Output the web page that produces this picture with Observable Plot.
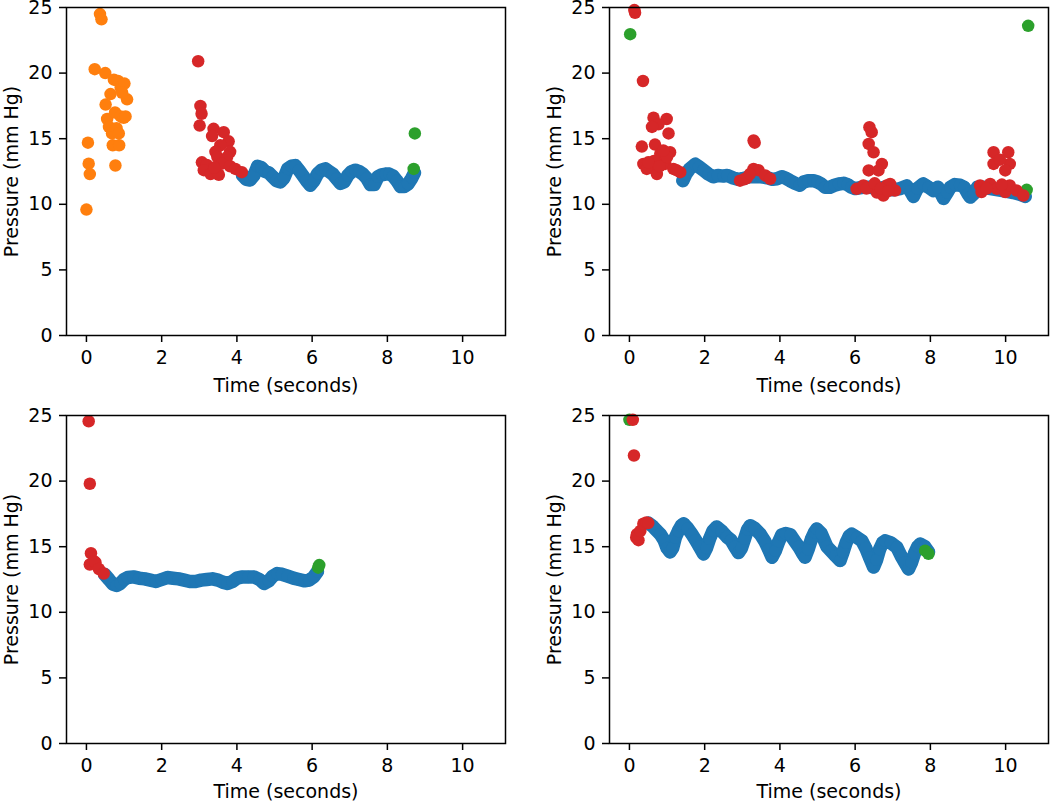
<!DOCTYPE html>
<html>
<head>
<meta charset="utf-8">
<script src="https://cdn.jsdelivr.net/npm/d3@7"></script>
<script src="https://cdn.jsdelivr.net/npm/@observablehq/plot@0.6"></script>
<style>
  body { margin: 0; background: white; font-family: "DejaVu Sans", sans-serif; }
  #wrap { position: relative; width: 1050px; height: 802px; overflow: hidden; }
  .cell { position: absolute; }
  .cell svg { overflow: visible; }
</style>
</head>
<body>
<div id="wrap"></div>
<script>
// ---- tick labels / axis text ----
const xTicks = [0, 2, 4, 6, 8, 10];
const yTicks = [0, 5, 10, 15, 20, 25];
const xLabel = "Time (seconds)";
const yLabel = "Pressure (mm Hg)";

// ---- series colours (categories) ----
const categories = ["baseline", "pre", "end", "artifact"];
const colors = {baseline: "#1f77b4", pre: "#ff7f0e", end: "#2ca02c", artifact: "#d62728"};

// ---- panel 1 (top left) ----
const p1Blue = [[4.15,12.2],[4.25,11.9],[4.35,11.85],[4.45,12.2],[4.55,12.9],[4.65,12.8],[4.75,12.5],[4.85,12.4],[4.95,12.1],[5.05,11.8],[5.15,11.7],[5.25,12.0],[5.35,12.7],[5.45,12.9],[5.55,12.95],[5.65,12.6],[5.75,12.2],[5.85,11.8],[5.95,11.45],[6.05,11.8],[6.15,12.35],[6.25,12.6],[6.35,12.7],[6.45,12.5],[6.55,12.3],[6.65,11.95],[6.75,11.6],[6.85,11.7],[6.95,12.2],[7.05,12.5],[7.15,12.6],[7.25,12.5],[7.35,12.3],[7.45,12.0],[7.55,11.5],[7.65,11.5],[7.75,12.1],[7.85,12.25],[7.95,12.3],[8.05,12.3],[8.15,12.15],[8.25,11.8],[8.35,11.35],[8.45,11.35],[8.55,11.55],[8.65,12.0],[8.72,12.4]];
const p1Orange = [[0.00,9.6],[0.04,14.7],[0.06,13.1],[0.09,12.3],[0.22,20.3],[0.36,24.5],[0.40,24.1],[0.50,20.0],[0.51,17.6],[0.55,16.5],[0.60,15.9],[0.64,18.4],[0.68,15.4],[0.70,14.5],[0.73,19.5],[0.77,12.96],[0.76,17.0],[0.80,15.8],[0.84,19.4],[0.86,15.4],[0.87,14.5],[0.91,16.7],[0.91,18.9],[0.99,16.6],[1.01,19.2],[1.04,16.7],[1.08,18.0],[0.95,18.5]];
const p1Green = [[8.70,12.7],[8.73,15.4]];
const p1Red = [[2.97,20.9],[3.03,17.5],[3.06,16.9],[3.01,16.0],[3.38,15.75],[3.65,15.5],[3.34,15.2],[3.78,14.8],[3.56,14.5],[3.43,14.0],[3.82,14.0],[3.48,13.6],[3.74,13.6],[3.07,13.2],[3.20,13.0],[3.12,12.6],[3.30,12.3],[3.52,12.25],[3.60,13.1],[3.82,12.9],[3.96,12.7],[4.13,12.45],[3.40,12.8]];

// ---- panel 2 (top right) ----
const p2Blue = [[1.42,11.8],[1.5,12.3],[1.6,12.7],[1.75,13.05],[1.85,12.85],[1.97,12.6],[2.1,12.3],[2.23,12.1],[2.35,12.2],[2.5,12.15],[2.6,12.2],[2.76,12.0],[2.9,11.9],[3.0,11.95],[3.2,12.1],[3.5,12.1],[3.7,12.0],[3.8,11.9],[3.92,11.95],[4.05,12.1],[4.15,12.0],[4.27,11.8],[4.4,11.6],[4.53,11.45],[4.63,11.7],[4.75,11.8],[4.89,11.8],[5.0,11.7],[5.1,11.55],[5.2,11.3],[5.33,11.3],[5.45,11.45],[5.57,11.55],[5.69,11.6],[5.8,11.5],[5.9,11.3],[6.0,11.2],[6.2,11.3],[6.4,11.3],[6.6,11.2],[6.8,11.3],[7.0,11.1],[7.2,11.2],[7.37,11.4],[7.47,11.0],[7.55,10.6],[7.65,11.2],[7.81,11.55],[7.95,11.3],[8.08,11.05],[8.2,11.3],[8.35,10.45],[8.45,10.9],[8.53,11.3],[8.65,11.5],[8.79,11.45],[8.9,11.3],[9.0,10.8],[9.06,10.55],[9.15,10.8],[9.25,11.3],[9.4,11.3],[9.6,11.2],[9.8,11.1],[10.0,11.0],[10.2,10.9],[10.4,10.75],[10.52,10.6]];
const p2Orange = [];
const p2Green = [[0.02,22.97],[10.60,23.6],[10.56,11.1]];
const p2Red = [[0.13,24.8],[0.15,24.6],[0.36,19.4],[0.64,16.6],[0.99,16.5],[0.77,16.1],[0.60,15.9],[1.04,15.4],[0.33,14.4],[0.68,14.55],[1.08,13.97],[0.82,13.85],[0.87,13.6],[0.65,13.3],[0.37,13.08],[0.55,12.96],[0.46,12.7],[0.73,12.3],[0.95,13.08],[1.17,12.7],[1.35,12.45],[0.50,13.2],[0.80,12.9],[1.00,13.6],[1.25,12.6],[0.90,14.1],[3.30,14.86],[3.33,14.7],[2.94,11.8],[3.12,12.0],[3.30,12.7],[3.43,12.6],[3.61,12.2],[3.74,11.95],[3.05,11.9],[3.20,12.3],[6.38,15.88],[6.44,15.5],[6.36,14.6],[6.49,13.97],[6.36,12.58],[6.71,13.08],[6.62,12.58],[6.04,11.18],[6.22,11.43],[6.44,11.3],[6.58,10.9],[6.75,10.67],[6.84,11.43],[7.06,11.05],[6.93,11.55],[6.30,11.2],[6.52,11.6],[6.68,11.2],[6.88,11.0],[9.68,13.97],[10.07,13.97],[9.68,13.08],[10.11,13.08],[9.99,12.58],[9.85,13.4],[9.32,11.43],[9.36,10.93],[9.59,11.55],[9.77,11.18],[9.99,10.93],[10.11,11.43],[10.29,11.05],[10.47,10.67],[9.50,11.2],[9.90,11.5]];

// ---- panel 3 (bottom left) ----
const p3Blue = [[0.48,12.9],[0.6,12.5],[0.7,12.15],[0.8,12.05],[0.9,12.2],[1.0,12.5],[1.1,12.65],[1.25,12.7],[1.4,12.6],[1.55,12.55],[1.7,12.45],[1.85,12.35],[2.0,12.5],[2.15,12.65],[2.3,12.6],[2.45,12.55],[2.6,12.45],[2.75,12.35],[2.9,12.35],[3.05,12.45],[3.2,12.5],[3.35,12.55],[3.5,12.45],[3.62,12.3],[3.75,12.2],[3.88,12.35],[4.0,12.6],[4.15,12.7],[4.3,12.7],[4.45,12.7],[4.6,12.5],[4.72,12.2],[4.85,12.4],[4.95,12.75],[5.07,12.95],[5.2,12.9],[5.35,12.75],[5.5,12.6],[5.65,12.5],[5.8,12.4],[5.92,12.45],[6.04,12.7],[6.14,13.1]];
const p3Orange = [];
const p3Green = [[6.16,13.4],[6.19,13.6]];
const p3Red = [[0.06,24.56],[0.09,19.8],[0.12,14.5],[0.09,13.64],[0.20,13.9],[0.24,13.8],[0.33,13.3],[0.46,12.96]];

// ---- panel 4 (bottom right) ----
const p4Blue = [[0.5,16.8],[0.6,16.6],[0.7,16.3],[0.82,15.95],[0.92,15.5],[1.0,14.9],[1.08,14.6],[1.15,14.9],[1.22,15.7],[1.3,16.2],[1.38,16.6],[1.44,16.75],[1.55,16.4],[1.66,15.95],[1.76,15.5],[1.86,15.0],[1.97,14.45],[2.05,14.9],[2.13,15.6],[2.22,16.2],[2.32,16.5],[2.45,16.2],[2.59,15.75],[2.7,15.5],[2.8,15.0],[2.9,14.55],[2.98,14.9],[3.06,15.6],[3.14,16.3],[3.21,16.6],[3.33,16.4],[3.48,15.95],[3.6,15.4],[3.7,14.8],[3.79,14.2],[3.88,14.7],[3.97,15.4],[4.05,15.9],[4.15,16.0],[4.28,15.9],[4.4,15.4],[4.5,15.0],[4.6,14.5],[4.67,14.2],[4.75,14.8],[4.84,15.6],[4.92,16.1],[4.98,16.35],[5.1,16.0],[5.25,15.0],[5.35,14.7],[5.48,14.3],[5.6,13.95],[5.68,14.6],[5.76,15.3],[5.84,15.8],[5.91,15.95],[6.05,15.7],[6.18,15.45],[6.28,14.9],[6.38,14.2],[6.49,13.45],[6.57,14.0],[6.65,14.8],[6.73,15.3],[6.8,15.45],[6.95,15.3],[7.11,14.95],[7.22,14.3],[7.32,13.8],[7.42,13.3],[7.5,13.8],[7.58,14.5],[7.66,15.0],[7.73,15.2],[7.85,15.0],[7.95,14.6]];
const p4Orange = [];
const p4Green = [[0.00,24.67],[7.86,14.7],[7.95,14.46]];
const p4Red = [[0.09,24.67],[0.12,21.95],[0.18,15.7],[0.24,15.5],[0.20,15.95],[0.29,16.2],[0.37,16.75],[0.45,16.85],[0.50,16.8]];

const panels = [
  {left: 0,   top: 0,   width: 525, mr: 20, labelDy: 50, blue: p1Blue, orange: p1Orange, green: p1Green, red: p1Red},
  {left: 543, top: 0,   width: 507, mr: 2,  labelDy: 50, blue: p2Blue, orange: p2Orange, green: p2Green, red: p2Red},
  {left: 0,   top: 408, width: 525, mr: 20, labelDy: 48, blue: p3Blue, orange: p3Orange, green: p3Green, red: p3Red},
  {left: 543, top: 408, width: 507, mr: 2,  labelDy: 48, blue: p4Blue, orange: p4Orange, green: p4Green, red: p4Red}
];

const R = 6.25;
const font = "DejaVu Sans";
const FS = 19;

function makePanel(p) {
  const dotOpts = (c) => ({x: d => d[0], y: d => d[1], r: R, fill: c, stroke: "none"});
  return Plot.plot({
    width: p.width,
    height: 401,
    marginLeft: 66,
    marginRight: p.mr,
    marginTop: 7,
    marginBottom: 66,
    style: {fontFamily: font, fontSize: FS + "px", color: "black", background: "white", overflow: "visible"},
    x: {domain: [-0.53, 11.14]},
    y: {domain: [0, 25]},
    marks: [
      Plot.line(p.blue, {x: d => d[0], y: d => d[1], stroke: colors.baseline, strokeWidth: 13.5, strokeLinejoin: "round", strokeLinecap: "round"}),
      Plot.dot(p.blue, dotOpts(colors.baseline)),
      Plot.dot(p.orange, dotOpts(colors.pre)),
      Plot.dot(p.green, dotOpts(colors.end)),
      Plot.dot(p.red, dotOpts(colors.artifact)),
      Plot.frame({stroke: "black", strokeWidth: 1.5}),
      Plot.axisX({ticks: xTicks, tickSize: 7, tickPadding: 8, label: null, fontSize: FS, strokeWidth: 1.5, tickFormat: d => String(d)}),
      Plot.axisY({ticks: yTicks, tickSize: 7, tickPadding: 7, label: null, fontSize: FS, strokeWidth: 1.5, tickFormat: d => String(d)}),
      Plot.text([xLabel], {text: d => d, frameAnchor: "bottom", dy: p.labelDy, fontSize: FS, fill: "black", lineAnchor: "middle"}),
      Plot.text([yLabel], {text: d => d, frameAnchor: "left", dx: -55, rotate: -90, fontSize: FS, fill: "black", textAnchor: "middle", lineAnchor: "middle"})
    ]
  });
}

const wrap = document.getElementById("wrap");
for (const p of panels) {
  const div = document.createElement("div");
  div.className = "cell";
  div.style.left = p.left + "px";
  div.style.top = p.top + "px";
  div.appendChild(makePanel(p));
  wrap.appendChild(div);
}
</script>
</body>
</html>
